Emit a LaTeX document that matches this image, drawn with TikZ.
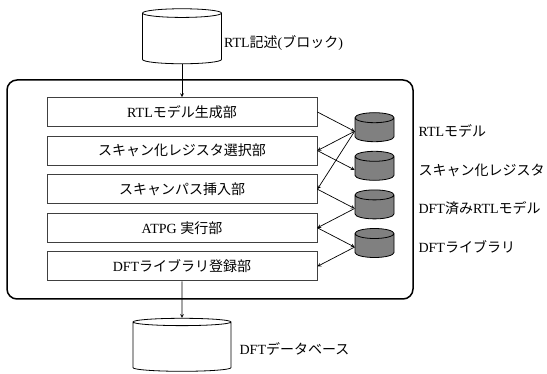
\documentclass[tikz,border=0pt]{standalone}
\usepackage{fontspec}
\setmainfont{Liberation Serif}
\newfontfamily\jpfont{Noto Sans CJK JP}
\newcommand{\jt}[1]{{\jpfont #1}}
\usepackage{tikz}
\usetikzlibrary{shapes.geometric, arrows, positioning}
\tikzstyle{unit} = [rectangle, minimum width=270pt, minimum height=29pt, text centered, draw=black!75, line width=0.8pt, font=\fontsize{14}{16}\selectfont]
\tikzstyle{bigdb} = [cylinder, shape border rotate=90, draw=black, line width=0.8pt, aspect=1.3]
\tikzstyle{smalldb} = [cylinder, shape border rotate=90, draw=black, fill=black!50, line width=0.8pt, aspect=1.5, minimum width=39pt, minimum height=29pt]
\tikzstyle{dblabel} = [font=\fontsize{14}{16}\selectfont, inner sep=2pt]
\tikzstyle{arrow} = [line width=0.7pt,->,>=stealth]

\begin{document}
\begin{tikzpicture}[x=1pt, y=1pt, node distance=38.6pt]
	\useasboundingbox (0,0) rectangle (547,-374);

	\node (b1) at (182,-112) [unit] {RTL\jt{モデル生成部}};
	\node (b2) [unit, below of=b1] {\jt{スキャン化レジスタ選択部}};
	\node (b3) [unit, below of=b2] {\jt{スキャンパス挿入部}};
	\node (b4) [unit, below of=b3] {ATPG \jt{実行部}};
	\node (b5) [unit, below of=b4] {DFT\jt{ライブラリ登録部}};

	\node (dbin) [bigdb, above of=b1, yshift=33.9pt, minimum width=79pt, minimum height=55pt] {};
	\node (dbout) [bigdb, below of=b5, yshift=-42.5pt, aspect=1.1, minimum width=98pt, minimum height=53pt] {};
	\node (tin) [dblabel, right=0pt of dbin, yshift=-3.5pt] {RTL\jt{記述}(\jt{ブロック})};
	\node (tout) [dblabel, right=6pt of dbout, yshift=-1.5pt] {DFT\jt{データベース}};

	\node (m1) [smalldb, right of=b1, xshift=153.9pt, yshift=-19.3pt] {};
	\node (m2) [smalldb, below of=m1] {};
	\node (m3) [smalldb, below of=m2] {};
	\node (m4) [smalldb, below of=m3] {};
	\node (t1) [dblabel, right=22pt of m1] {RTL\jt{モデル}};
	\node (t2) [dblabel, right=22pt of m2] {\jt{スキャン化レジスタ}};
	\node (t3) [dblabel, right=22pt of m3] {DFT\jt{済み}RTL\jt{モデル}};
	\node (t4) [dblabel, right=22pt of m4] {DFT\jt{ライブラリ}};

	% frame round the tool
	\draw [line width=1.5pt, rounded corners=10pt] (7,-80) rectangle (413,-299);

	\draw [arrow] (dbin) -- (b1);
	\draw [arrow] (b5) -- (dbout);
	\draw [arrow] (b1.east) -- (m1.west);
	\draw [arrow] (m1.west) -- (b2.east);
	\draw [arrow] (b2.east) -- (m2.west);
	\draw [arrow] (m1.west) -- (b3.east);
	\draw [arrow] (b3.east) -- (m3.west);
	\draw [arrow] (m3.west) -- (b4.east);
	\draw [arrow] (b4.east) -- (m4.west);
	\draw [arrow] (m4.west) -- (b5.east);
\end{tikzpicture}
\end{document}
